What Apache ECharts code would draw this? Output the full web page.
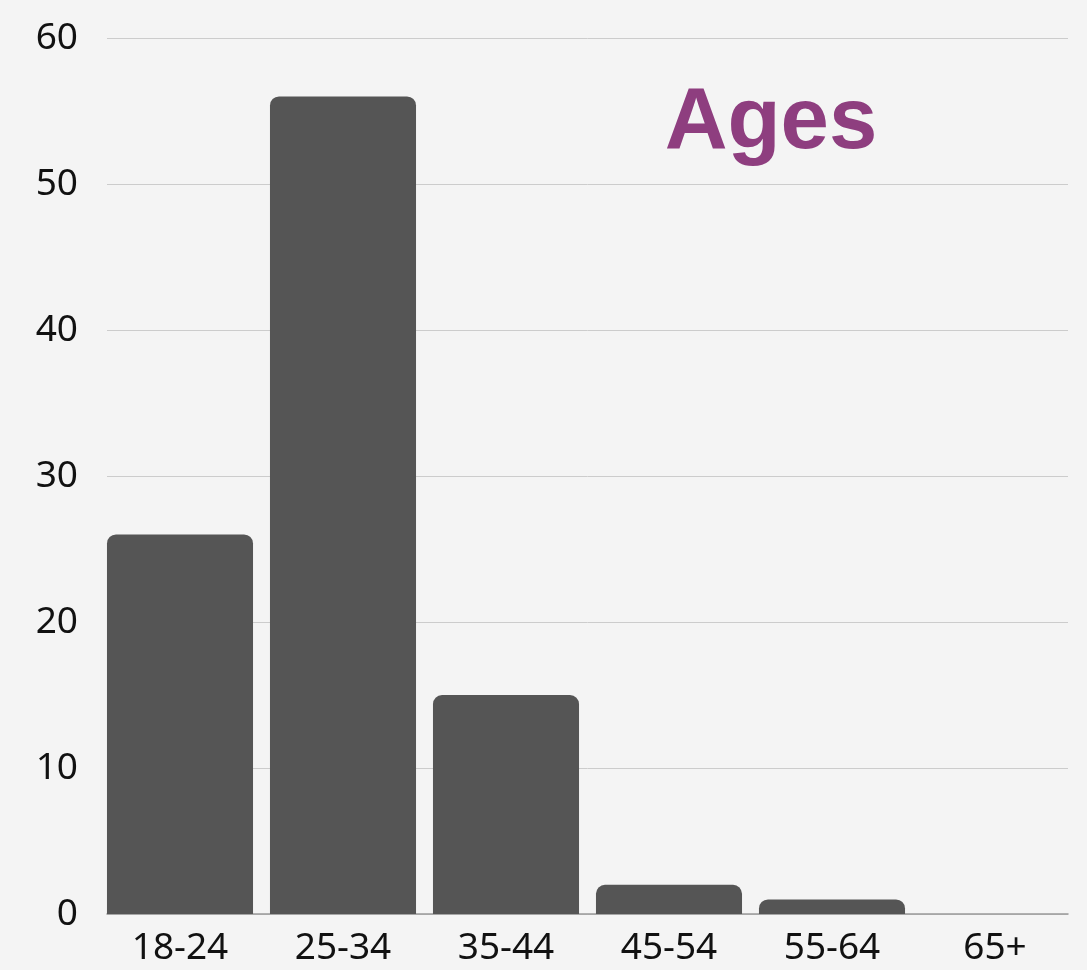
<!DOCTYPE html>
<html>
<head>
<meta charset="utf-8">
<script src="https://cdn.jsdelivr.net/npm/echarts@6/dist/echarts.min.js"></script>
<style>
html,body{margin:0;padding:0;background:#f4f4f4;}
#c{width:1087px;height:970px;}
</style>
</head>
<body>
<div id="c"></div>
<script>
const categories = ['18-24','25-34','35-44','45-54','55-64','65+'];
const values = [26, 56, 15, 2, 1, 0];
const yTicks = [0, 10, 20, 30, 40, 50, 60];
const titleText = 'Ages';

const labelFont = 'Noto Sans, sans-serif';
const chart = echarts.init(document.getElementById('c'));
chart.setOption({
  backgroundColor: '#f4f4f4',
  animation: false,
  title: {
    text: titleText,
    left: 766, top: 76,
    textAlign: 'center',
    textStyle: { color: '#8e3e7f', fontSize: 87, fontWeight: 'bold', fontFamily: 'Liberation Sans, Arial, sans-serif' }
  },
  grid: [
    { left: 98.5, right: 10.5, top: 38, bottom: 56 },
    { left: 107, right: 19, top: 38, bottom: 56 }
  ],
  xAxis: [
    {
      type: 'category', gridIndex: 0,
      data: categories,
      axisLine: { show: false },
      axisTick: { show: false },
      axisLabel: { color: '#111', fontSize: 37, fontFamily: labelFont, margin: 16 }
    },
    {
      type: 'value', gridIndex: 1, min: 0, max: 1,
      axisLine: { show: true, lineStyle: { color: '#999', width: 1.5 } },
      axisTick: { show: false },
      axisLabel: { show: false },
      splitLine: { show: false }
    }
  ],
  yAxis: [
    {
      type: 'value', gridIndex: 0,
      min: yTicks[0], max: yTicks[yTicks.length-1], interval: 10,
      axisLine: { show: false }, axisTick: { show: false },
      axisLabel: { show: false }, splitLine: { show: false }
    },
    {
      type: 'value', gridIndex: 1,
      min: yTicks[0], max: yTicks[yTicks.length-1], interval: 10,
      axisLine: { show: false },
      axisTick: { show: false },
      splitLine: { lineStyle: { color: '#cccccc', width: 1 } },
      axisLabel: { color: '#111', fontSize: 37, fontFamily: labelFont, margin: 29 }
    }
  ],
  series: [{
    type: 'bar',
    xAxisIndex: 0, yAxisIndex: 0,
    data: values,
    barCategoryGap: '10.4%',
    z: 3,
    itemStyle: { color: '#555555', borderRadius: [9, 9, 0, 0] }
  }]
});
</script>
</body>
</html>
